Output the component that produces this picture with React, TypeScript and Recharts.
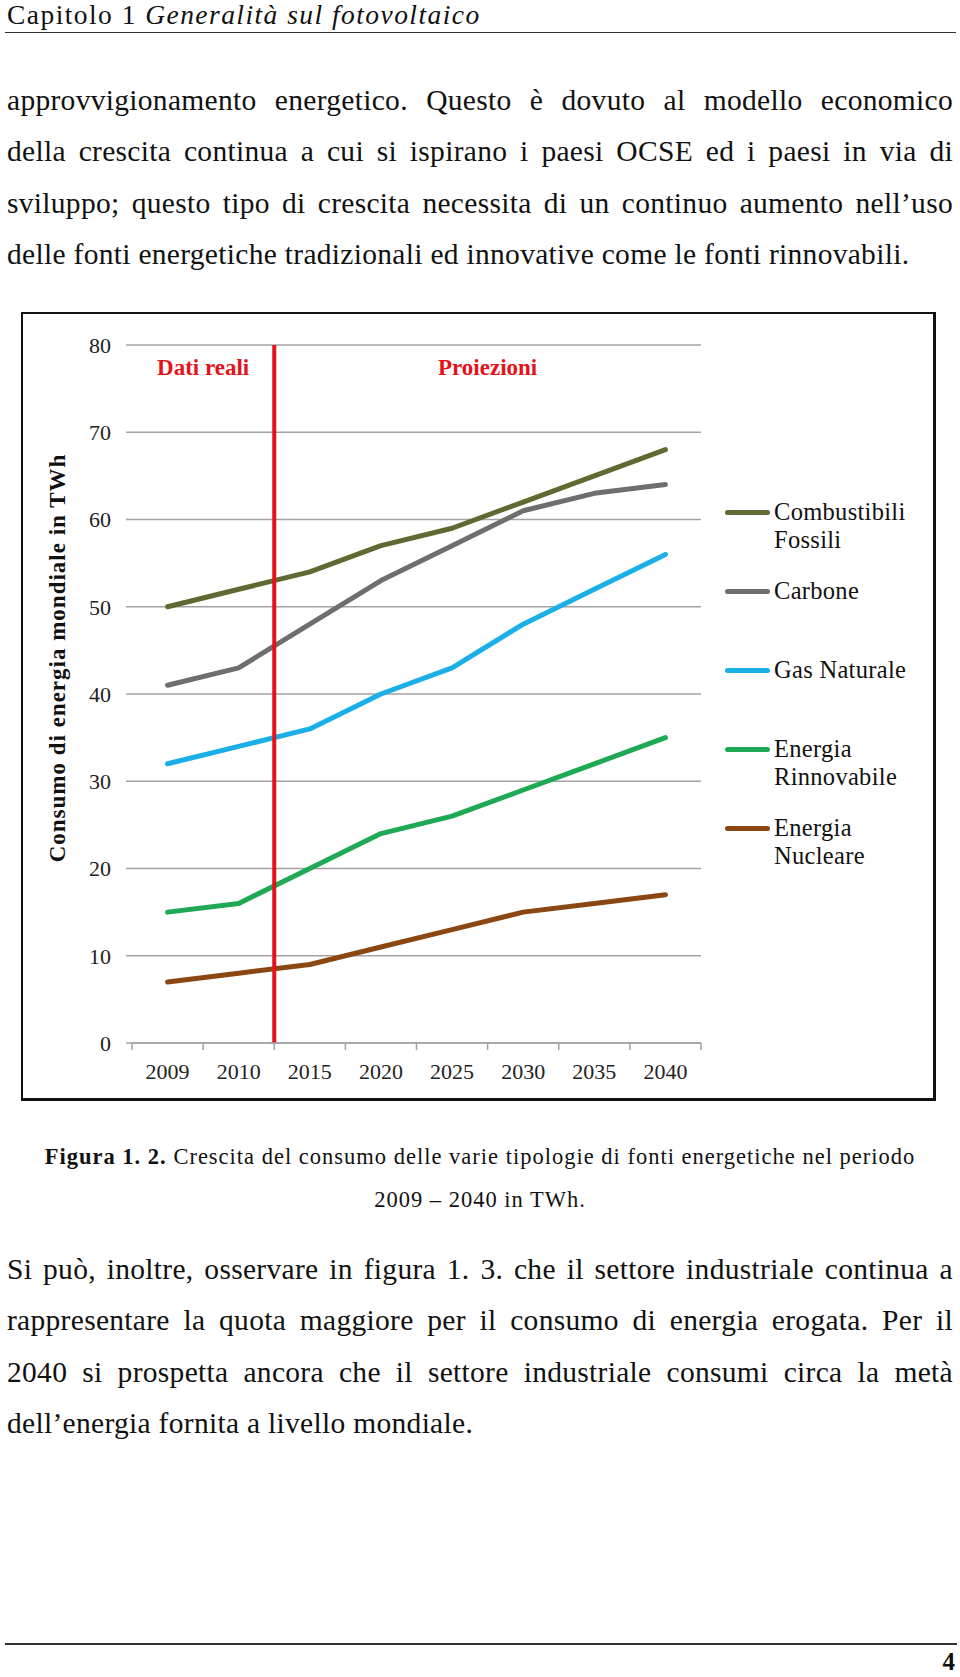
import React from "react";
import {
  LineChart,
  Line,
  XAxis,
  YAxis,
  CartesianGrid,
  Legend,
  ReferenceLine,
  ReferenceArea,
} from "recharts";

const years = ["2009", "2010", "2015", "2020", "2025", "2030", "2035", "2040"];
const fossili = [50, 52, 54, 57, 59, 62, 65, 68];
const carbone = [41, 43, 48, 53, 57, 61, 63, 64];
const gasNaturale = [32, 34, 36, 40, 43, 48, 52, 56];
const rinnovabile = [15, 16, 20, 24, 26, 29, 32, 35];
const nucleare = [7, 8, 9, 11, 13, 15, 16, 17];
const yTicks = [0, 10, 20, 30, 40, 50, 60, 70, 80];

// each year sits in the middle of its own slot, slot edges carry the tick marks
const slotEdges = years.map((_, i) => i).concat(years.length);
const slotCenters = years.map((_, i) => i + 0.5);

const series = [
  { key: "fossili", name: "Combustibili Fossili", color: "#5E6A32" },
  { key: "carbone", name: "Carbone", color: "#6E6E6E" },
  { key: "gas", name: "Gas Naturale", color: "#1AAFE6" },
  { key: "rinnovabile", name: "Energia Rinnovabile", color: "#1FA955" },
  { key: "nucleare", name: "Energia Nucleare", color: "#8B4712" },
];

const data = years.map((year, i) => ({
  year,
  pos: slotCenters[i],
  fossili: fossili[i],
  carbone: carbone[i],
  gas: gasNaturale[i],
  rinnovabile: rinnovabile[i],
  nucleare: nucleare[i],
}));

const para1 = [
  "approvvigionamento energetico. Questo è dovuto al modello economico",
  "della crescita continua a cui si ispirano i paesi OCSE ed i paesi in via di",
  "sviluppo; questo tipo di crescita necessita di un continuo aumento nell’uso",
  "delle fonti energetiche tradizionali ed innovative come le fonti rinnovabili.",
];
const para2 = [
  "Si può, inoltre, osservare in figura 1. 3. che il settore industriale continua a",
  "rappresentare la quota maggiore per il consumo di energia erogata. Per il",
  "2040 si prospetta ancora che il settore industriale consumi circa la metà",
  "dell’energia fornita a livello mondiale.",
];

const FONT = "'Liberation Serif', 'Times New Roman', serif";
const RED = "#E5121A";
const GRID = "#A3A3A3";

function TextLines({ lines, top }: { lines: string[]; top: number }) {
  return (
    <>
      {lines.map((t, i) => (
        <div
          key={i}
          style={{
            position: "absolute",
            left: 7,
            top: top + i * 51.3,
            width: 946,
            fontSize: 29.5,
            lineHeight: "51px",
            letterSpacing: 0.3,
            whiteSpace: "nowrap",
            textAlign: "justify",
            textAlignLast: i === lines.length - 1 ? "left" : "justify",
            color: "#111",
          }}
        >
          {t}
        </div>
      ))}
    </>
  );
}

const renderLegend = (props: any) => {
  const { payload } = props;
  return (
    <div style={{ fontFamily: FONT }}>
      {payload.map((entry: any) => (
        <div key={entry.value} style={{ position: "relative", height: 79 }}>
          <span
            style={{
              position: "absolute",
              left: 0,
              top: 12,
              width: 45,
              height: 5,
              borderRadius: 3,
              background: entry.color,
            }}
          />
          <div
            style={{
              position: "absolute",
              left: 49,
              top: 0,
              width: 150,
              fontSize: 24.5,
              lineHeight: "28px",
              letterSpacing: 0.3,
              color: "#111",
            }}
          >
            {entry.value}
          </div>
        </div>
      ))}
    </div>
  );
};

const YTitle = (props: any) => {
  const { viewBox } = props;
  const cx = viewBox.x - 15;
  const cy = viewBox.y + 313;
  return (
    <text
      x={cx}
      y={cy}
      transform={`rotate(-90, ${cx}, ${cy})`}
      textAnchor="middle"
      dominantBaseline="central"
      fontFamily={FONT}
      fontWeight="bold"
      fontSize={23}
      letterSpacing={1}
      fill="#111"
    >
      Consumo di energia mondiale in TWh
    </text>
  );
};

const areaLabel = (value: string) => ({
  value,
  position: "insideTop" as const,
  offset: 14,
  fill: RED,
  fontSize: 23,
  fontWeight: "bold",
  fontFamily: FONT,
});

export default function App() {
  return (
    <div
      style={{
        position: "absolute",
        left: 0,
        top: 0,
        width: 960,
        height: 1677,
        background: "#fff",
        overflow: "hidden",
        fontFamily: FONT,
        color: "#111",
      }}
    >
      {/* intestazione */}
      <div
        style={{
          position: "absolute",
          left: 7,
          top: 1,
          fontSize: 27.5,
          lineHeight: "28px",
          letterSpacing: 1.45,
          whiteSpace: "nowrap",
        }}
      >
        Capitolo 1 <i>Generalità sul fotovoltaico</i>
      </div>
      <div
        style={{
          position: "absolute",
          left: 5,
          top: 32,
          width: 951,
          borderTop: "1.5px solid #333",
        }}
      />

      <TextLines lines={para1} top={75} />

      {/* grafico */}
      <div
        style={{
          position: "absolute",
          left: 21,
          top: 312,
          width: 915,
          height: 789,
        }}
      >
        <LineChart
          width={915}
          height={789}
          data={data}
          margin={{ top: 33, right: 235, bottom: 18, left: 51 }}
        >
          <CartesianGrid
            xAxisId="edges"
            vertical={false}
            stroke={GRID}
            strokeWidth={1.5}
          />
          <XAxis
            xAxisId="edges"
            dataKey="pos"
            type="number"
            domain={[0, years.length]}
            ticks={slotEdges}
            allowDataOverflow
            interval={0}
            tickFormatter={() => ""}
            tickSize={7}
            height={1}
            axisLine={{ stroke: GRID, strokeWidth: 1.5 }}
            tickLine={{ stroke: GRID, strokeWidth: 1.5 }}
          />
          <XAxis
            xAxisId="years"
            dataKey="pos"
            type="number"
            domain={[0, years.length]}
            ticks={slotCenters}
            allowDataOverflow
            interval={0}
            axisLine={false}
            tickLine={false}
            tickSize={0}
            tickMargin={19}
            height={39}
            tickFormatter={(v: number) => years[Math.floor(v)]}
            tick={{ fontSize: 22, fontFamily: FONT, fill: "#222" }}
          />
          <YAxis
            domain={[0, 80]}
            ticks={yTicks}
            interval={0}
            width={60}
            axisLine={false}
            tickSize={6}
            tickMargin={15}
            tickLine={{ stroke: GRID, strokeWidth: 1.5 }}
            tick={{ fontSize: 22, fontFamily: FONT, fill: "#222" }}
            label={{ content: YTitle }}
          />
          <ReferenceArea
            xAxisId="edges"
            x1={0}
            x2={2}
            ifOverflow="visible"
            fill="none"
            fillOpacity={0}
            label={areaLabel("Dati reali")}
          />
          <ReferenceArea
            xAxisId="edges"
            x1={2}
            x2={years.length}
            ifOverflow="visible"
            fill="none"
            fillOpacity={0}
            label={areaLabel("Proiezioni")}
          />
          {series.map((s) => (
            <Line
              key={s.key}
              xAxisId="years"
              type="linear"
              dataKey={s.key}
              name={s.name}
              stroke={s.color}
              strokeWidth={5}
              strokeLinejoin="round"
              strokeLinecap="round"
              dot={false}
              activeDot={false}
              isAnimationActive={false}
            />
          ))}
          <ReferenceLine
            xAxisId="edges"
            x={2}
            ifOverflow="visible"
            stroke={RED}
            strokeWidth={4}
          />
          <Legend
            layout="vertical"
            align="center"
            verticalAlign="middle"
            itemSorter={(item: any) =>
              series.findIndex((s) => s.name === item.value)
            }
            content={renderLegend}
            wrapperStyle={{ left: 704, top: 186, width: 210, height: 420 }}
          />
        </LineChart>
        <div
          style={{
            position: "absolute",
            left: 0,
            top: 0,
            width: 915,
            height: 789,
            boxSizing: "border-box",
            borderTop: "2px solid #111",
            borderLeft: "2px solid #111",
            borderRight: "3px solid #111",
            borderBottom: "3px solid #111",
            pointerEvents: "none",
          }}
        />
      </div>

      {/* didascalia */}
      <div
        style={{
          position: "absolute",
          left: 0,
          top: 1136,
          width: 960,
          textAlign: "center",
          fontSize: 22.5,
          lineHeight: "42.5px",
          letterSpacing: 1,
          whiteSpace: "nowrap",
        }}
      >
        <b>Figura 1. 2.</b> Crescita del consumo delle varie tipologie di fonti
        energetiche nel periodo
        <br />
        2009 – 2040 in TWh.
      </div>

      <TextLines lines={para2} top={1244} />

      {/* piè di pagina */}
      <div
        style={{
          position: "absolute",
          left: 5,
          top: 1643,
          width: 952,
          borderTop: "2px solid #333",
        }}
      />
      <div
        style={{
          position: "absolute",
          right: 5,
          top: 1649,
          fontSize: 25,
          lineHeight: "26px",
          fontWeight: "bold",
        }}
      >
        4
      </div>
    </div>
  );
}
